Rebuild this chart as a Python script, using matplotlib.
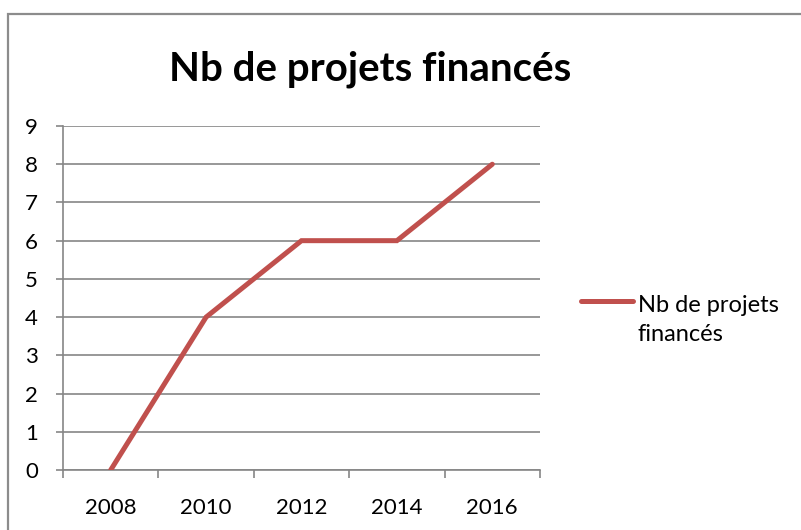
import matplotlib.pyplot as plt
from matplotlib.lines import Line2D
from matplotlib.patches import Rectangle

plt.rcParams['font.family'] = ['Lato', 'DejaVu Sans']

years = ['2008', '2010', '2012', '2014', '2016']
projets = [0, 4, 6, 6, 8]
serie = 'Nb de projets financés'

RED = '#C0504D'
GRID = '#868686'

W, H = 801, 530
fig = plt.figure(figsize=(W / 100, H / 100), dpi=100)

# chart frame (runs off the right and bottom edges)
fig.add_artist(Rectangle((8 / W, -0.05), 1.05, 1 - 14 / H + 0.05,
                         transform=fig.transFigure, fill=False,
                         edgecolor='#8C8C8C', linewidth=1.6))

ax = fig.add_axes([63 / W, 1 - 470 / H, (540 - 63) / W, (470 - 126) / H])
x = list(range(len(years)))
ax.plot(x, projets, color=RED, linewidth=3.6, solid_capstyle='round',
        solid_joinstyle='miter', zorder=3)

ax.set_ylim(0, 9)
ax.set_yticks(range(10))
ax.set_xlim(-0.5, len(years) - 0.5)
ax.set_xticks([i - 0.5 for i in range(len(years) + 1)])
ax.set_xticklabels([])
ax.set_xticks(x, minor=True)
ax.set_xticklabels(years, minor=True)

ax.yaxis.grid(True, color=GRID, linewidth=1.2)
ax.set_axisbelow(True)
for s in ['top', 'right']:
    ax.spines[s].set_visible(False)
for s in ['left', 'bottom']:
    ax.spines[s].set_color(GRID)
    ax.spines[s].set_linewidth(1.2)

ax.tick_params(axis='y', length=5, width=1.2, color=GRID, pad=13, labelsize=16)
ax.tick_params(axis='x', which='major', length=6, width=1.2, color=GRID)
ax.tick_params(axis='x', which='minor', length=0, pad=20, labelsize=16)

fig.text(370 / W, 1 - 80 / H, serie, ha='center', va='baseline',
         fontsize=29, fontweight='bold')

# legend, drawn by hand so the key sits on the first text line
fig.add_artist(Line2D([581 / W, 633 / W], [1 - 301 / H] * 2,
                      transform=fig.transFigure, color=RED, linewidth=3.6,
                      solid_capstyle='round'))
fig.text(638 / W, 1 - 341 / H, 'Nb de projets\nfinancés', ha='left',
         va='baseline', fontsize=17, linespacing=1.5)

fig.savefig('out.png', dpi=100)
